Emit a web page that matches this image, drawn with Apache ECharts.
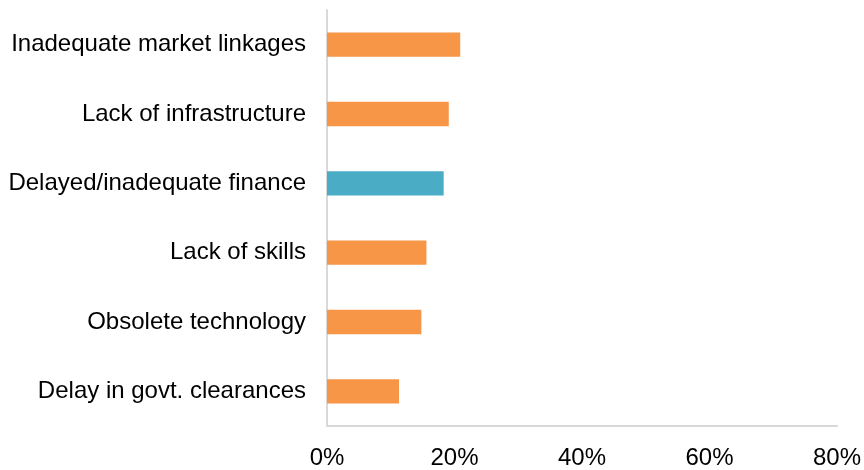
<!DOCTYPE html>
<html>
<head>
<meta charset="utf-8">
<script src="https://cdn.jsdelivr.net/npm/echarts@6/dist/echarts.min.js"></script>
<style>
  html, body { margin: 0; padding: 0; background: #ffffff; }
  #chart { width: 864px; height: 470px; }
</style>
</head>
<body>
<div id="chart"></div>
<script>
// Constraints reported, share of respondents (%)
const categories = [
  'Inadequate market linkages',
  'Lack of infrastructure',
  'Delayed/inadequate finance',
  'Lack of skills',
  'Obsolete technology',
  'Delay in govt. clearances'
];
const values = [20.9, 19.1, 18.3, 15.6, 14.8, 11.3];
const highlighted = 'Delayed/inadequate finance';
const xTicks = [0, 20, 40, 60, 80];

const ORANGE = '#F79646';
const BLUE = '#4BACC6';
const FONT = 'Liberation Sans, Arial, sans-serif';

const chart = echarts.init(document.getElementById('chart'), null, { renderer: 'canvas' });

chart.setOption({
  animation: false,
  backgroundColor: '#ffffff',
  grid: { left: 327, right: 26, top: 10, bottom: 43 },
  xAxis: {
    type: 'value',
    min: xTicks[0],
    max: xTicks[xTicks.length - 1],
    interval: 20,
    axisLine: { show: true, lineStyle: { color: '#d9d9d9', width: 2 } },
    axisTick: { show: false },
    splitLine: { show: false },
    axisLabel: {
      formatter: v => v + '%',
      color: '#000000',
      fontFamily: FONT,
      fontSize: 24,
      margin: 20
    }
  },
  yAxis: {
    type: 'category',
    data: categories,
    inverse: true,
    axisLine: { show: true, lineStyle: { color: '#d9d9d9', width: 2 } },
    axisTick: { show: false },
    axisLabel: {
      color: '#000000',
      fontFamily: FONT,
      fontSize: 24,
      margin: 21,
      padding: [4, 0, 0, 0]
    }
  },
  series: [{
    type: 'bar',
    barWidth: '35%',
    data: values.map((v, i) => ({
      value: v,
      itemStyle: { color: categories[i] === highlighted ? BLUE : ORANGE }
    }))
  }]
});
</script>
</body>
</html>
